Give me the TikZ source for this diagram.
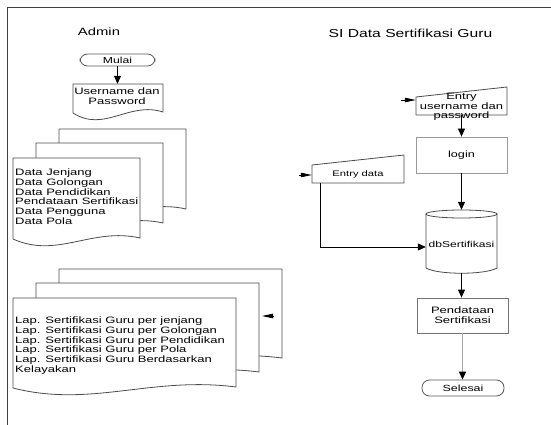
\documentclass[tikz,border=0pt]{standalone}
\usepackage{fontspec}
\setmainfont{Liberation Sans}[FakeStretch=1.4]
\newfontfamily\titlefont{Liberation Sans}[FakeStretch=1.35]
\usetikzlibrary{arrows.meta}
\newcommand\bodyfont{\fontsize{9.3}{9.7}\selectfont}
\newcommand\mydoc[4]{%
  \path[docline] (#1,#2) -- (#3,#2) -- (#3,#4-1)
    .. controls ({#1+0.62*(#3-#1)},#4-12) and ({#1+0.35*(#3-#1)},#4+20) .. (#1,#4) -- cycle;}
\tikzset{
  border/.style={draw=black!75, line width=0.9pt},
  docline/.style={draw=black!70, line width=0.8pt, fill=white},
  flow/.style={draw=black, line width=0.8pt, -{Triangle[length=8pt,width=7pt]}},
  flowgray/.style={draw=black!35, line width=1.2pt, -{Triangle[length=8pt,width=7pt,color=black]}},
  stub/.style={draw=black, line width=0.8pt, -{Triangle[length=11pt,width=4.5pt]}},
  term/.style={draw=black!65, line width=0.8pt, rounded corners=7.5pt, inner sep=0pt},
  holder/.style={draw=none, inner sep=0pt},
  procbox/.style={line width=0.8pt, inner sep=0pt, align=center, font=\bodyfont},
}
\begin{document}
\begin{tikzpicture}[x=1pt,y=-1pt]
\useasboundingbox (0,0) rectangle (551,425);
\draw[border] (7,425) -- (7,7) -- (551,7);

% titles
\node[font=\fontsize{10.6}{12}\selectfont] (admin) at (99,32) {Admin};
\node[font=\titlefont\fontsize{11.6}{13}\selectfont] (title) at (410.5,33) {SI Data Sertifikasi Guru};

% ---------- left column ----------
\node[term, minimum width=75pt, minimum height=12pt, font=\fontsize{8.7}{9}\selectfont] (mulai) at (117.5,60) {Mulai};

\mydoc{73}{84}{163}{113}
\node[holder, minimum width=90pt, minimum height=29pt] (user) at (118,98.5) {};
\node[holder, align=center, font=\bodyfont] (usertxt) at (117,96) {Username dan\\Password};

\draw[flow] (mulai.south) -- (mulai.south |- user.north);

% data stack
\mydoc{59}{129}{186}{210}
\mydoc{36}{143}{163}{224}
\mydoc{13}{158}{140}{239}
\node[anchor=north west, align=left, inner sep=0pt, font=\bodyfont] (datatxt) at (15,168.7)
  {Data Jenjang\\Data Golongan\\Data Pendidikan\\Pendataan Sertifikasi\\Data Pengguna\\Data Pola};

% report stack
\mydoc{59}{269}{282}{359}
\mydoc{36}{283}{259}{373}
\mydoc{13}{298}{236}{388}
\node[anchor=north west, align=left, inner sep=0pt, font=\bodyfont] (reptxt) at (15,316.7)
  {Lap. Sertifikasi Guru per jenjang\\Lap. Sertifikasi Guru per Golongan\\Lap. Sertifikasi Guru per Pendidikan\\Lap. Sertifikasi Guru per Pola\\Lap. Sertifikasi Guru Berdasarkan\\Kelayakan};
\coordinate (repA) at (273,316);
\coordinate (repB) at (262,316);
\draw[stub] (repA) -- (repB);

% ---------- right column ----------
\path[docline] (416,97) -- (507,87) -- (507,115) -- (416,115) -- cycle;
\node[holder, minimum width=91pt, minimum height=28pt] (entryu) at (461.5,101) {};
\node[holder, align=center, font=\bodyfont] (entryutxt) at (461.5,107) {Entry\\username dan\\password};
\coordinate (euIn) at (401,100);
\draw[stub] (euIn) -- (euIn -| entryu.west);

\node[procbox, draw=black!40, minimum width=91pt, minimum height=36pt, font=\fontsize{9}{9}\selectfont] (login) at (461.5,155) {login};
\draw[flow] (entryu.south) -- (login.north);

\path[docline] (312,165) -- (404,155) -- (404,183) -- (312,183) -- cycle;
\node[holder, minimum width=92pt, minimum height=28pt] (ed) at (358,169) {};
\node[holder, font=\fontsize{8}{8}\selectfont] (edtxt) at (358,174) {Entry data};
\coordinate (edIn) at (299,175);
\draw[stub] (edIn) -- (edIn -| ed.west);

% database cylinder
\path[docline] (426,214) -- (426,268) .. controls (438,275) and (485,275) .. (497,268) -- (497,214) -- cycle;
\draw[docline] (461.5,214) ellipse [x radius=35.5pt, y radius=4pt];
\node[holder, minimum width=71pt, minimum height=63pt] (db) at (461.5,241.5) {};
\node[holder, font=\fontsize{8.6}{9}\selectfont] (dbtxt) at (461.5,244) {dbSertifikasi};

\draw[flow] (login.south) -- (db.north);
\draw[flow] ([xshift=9pt]ed.south west) |- ([yshift=-5.5pt]db.west);

\node[procbox, draw=black!55, minimum width=91pt, minimum height=35pt] (pend) at (462.5,315.5) {Pendataan\\Sertifikasi};
\draw[flow] (db.south) -- (db.south |- pend.north);

\node[term, minimum width=82pt, minimum height=16pt, font=\fontsize{8.9}{9}\selectfont] (selesai) at (463,388) {Selesai};
\draw[flowgray] (pend.south) -- (pend.south |- selesai.north);
\end{tikzpicture}
\end{document}
